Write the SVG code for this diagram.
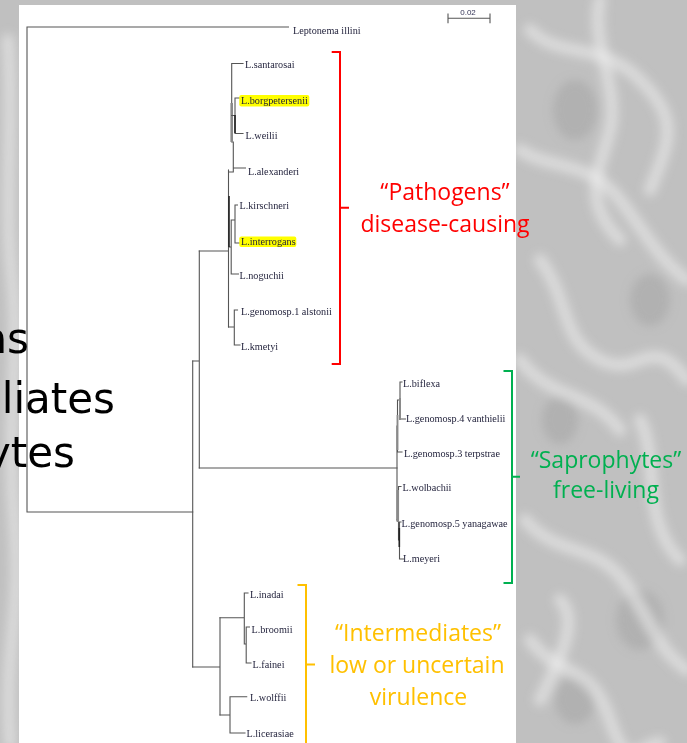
<svg xmlns="http://www.w3.org/2000/svg" width="687" height="743" viewBox="0 0 687 743">
<defs>
<style>
.bg{fill:#c0c0c0}
.panel{fill:#ffffff}
.tree{fill:none;stroke:#555;stroke-width:1.1;stroke-linecap:square}
.dark{fill:none;stroke:#222;stroke-width:1.6}
.blk{fill:#8a8a8a}
.leaf{font-family:"Liberation Serif","Times New Roman",serif;font-size:10.2px;fill:#1e1e38}
.hl{fill:#ffff00}
.big{font-family:"DejaVu Sans",sans-serif;font-size:42px;fill:#000}
.grp{font-family:"Open Sans","Liberation Sans",sans-serif;font-size:23px;text-anchor:middle}
.red{fill:#ff0000}
.grn{fill:#00b050}
.org{fill:#ffc000}
.brR{fill:none;stroke:#ff0000;stroke-width:2}
.brG{fill:none;stroke:#00b050;stroke-width:2}
.brO{fill:none;stroke:#ffc000;stroke-width:2}
.tex{fill:none;stroke:#eeeeee;stroke-width:13;stroke-linecap:round;opacity:0.55}
.dk{fill:#a6a6a6;opacity:0.6}
</style>
<filter id="blur" x="-20%" y="-20%" width="140%" height="140%"><feGaussianBlur stdDeviation="5"/></filter>
</defs>

<!-- background texture -->
<rect class="bg" x="0" y="0" width="687" height="743"/>
<g filter="url(#blur)">
<ellipse class="dk" cx="575" cy="110" rx="22" ry="30"/>
<ellipse class="dk" cx="650" cy="300" rx="20" ry="26"/>
<ellipse class="dk" cx="560" cy="420" rx="18" ry="24"/>
<ellipse class="dk" cx="640" cy="620" rx="24" ry="30"/>
<ellipse class="dk" cx="575" cy="700" rx="20" ry="24"/>
<path class="tex" d="M530,30 C560,60 600,40 640,80 S670,140 650,190"/>
<path class="tex" d="M600,0 C590,40 620,90 610,130 S580,200 620,240"/>
<path class="tex" d="M520,150 C550,170 590,160 620,200 S660,260 687,280"/>
<path class="tex" d="M540,260 C570,300 560,340 600,360 S650,330 687,380"/>
<path class="tex" d="M520,360 C550,400 590,390 620,430"/>
<path class="tex" d="M640,420 C660,460 640,520 680,560"/>
<path class="tex" d="M525,520 C560,560 600,540 630,590 S660,650 687,670"/>
<path class="tex" d="M530,640 C560,680 590,660 610,720 S640,743 660,743"/>
<path class="tex" d="M560,600 C580,620 560,660 540,700"/>
<path class="tex" d="M8,40 C14,120 4,200 12,280 S6,420 14,520 S4,640 10,743"/>
</g>
<rect class="panel" x="19" y="5" width="497" height="738"/>

<!-- scale bar -->
<g id="scale">
<path class="tree" d="M448,18.3 H490 M448,14 V22.7 M490,14 V22.7"/>
<text x="468" y="15" font-family="Liberation Sans,Arial,sans-serif" font-size="8" fill="#333355" text-anchor="middle">0.02</text>
</g>

<!-- connectors (tree branches) -->
<g id="connectors">
<path class="tree" d="M288.5,27 H27 V512 H192.7"/>
<path class="tree" d="M192.7,361 V667"/>
<path class="tree" d="M192.7,361 H199.3 M199.3,251 V468"/>
<path class="tree" d="M199.3,251 H228.5 M199.3,468 H397"/>
<!-- pathogens -->
<path class="tree" d="M228.5,170 V327"/>
<path class="tree" d="M243,63.5 H231.7 V142 H233.3 V168 H245.5 M233.3,168 V172 H228.5"/>
<rect class="blk" x="230.4" y="103" width="2.6" height="39"/>
<path class="tree" d="M231.7,115.5 H235 M239.5,98 H235 V133.5 H243"/>
<path class="dark" d="M235,115 V133"/>
<path class="tree" d="M237.5,205 H235 V243 H239.5 M235,220 H231.2 M231.2,220 V274 H238.5 M228.5,247 H231.2"/>
<path class="dark" d="M229,196 V247"/>
<path class="tree" d="M237.5,310 H234.3 V345 H240 M228.5,327 H234.3"/>
<!-- saprophytes -->
<path class="tree" d="M397,426 V520"/>
<path class="tree" d="M402,382 H400 V419 H405.5 M397.5,400 H400 M397.5,400 V452 H402"/>
<rect class="blk" x="399" y="398" width="2" height="22"/>
<rect class="blk" x="396.6" y="415" width="1.8" height="35"/>
<path class="tree" d="M401,486.5 H398.5 V540 M397,520 H398.5 M401,522 H399.5 V559 H403.5 M398.5,540 H399.5"/>
<rect class="blk" x="396.6" y="490" width="2.4" height="32"/>
<path class="dark" d="M399.3,528 V547"/>
<!-- intermediates -->
<path class="tree" d="M192.7,667 H220 M220,617.7 V715"/>
<path class="tree" d="M220,617.7 H244.3 M248,593 H244.3 V644 H246.2 M249.5,627 H246.2 V663 H251"/>
<path class="tree" d="M220,715 H230 M246.7,696.7 H230 V733 H245"/>
</g>

<!-- leaf nodes -->
<g id="n-leptonema"><text class="leaf" x="293" y="33.5">Leptonema illini</text></g>
<g id="n-santarosai"><text class="leaf" x="245" y="67.5">L.santarosai</text></g>
<g id="n-borgpetersenii"><rect class="hl" x="239.3" y="95" width="70" height="11.5" rx="2"/><text class="leaf" x="241" y="103.5">L.borgpetersenii</text></g>
<g id="n-weilii"><text class="leaf" x="245.5" y="139">L.weilii</text></g>
<g id="n-alexanderi"><text class="leaf" x="248" y="174.5">L.alexanderi</text></g>
<g id="n-kirschneri"><text class="leaf" x="239.5" y="209">L.kirschneri</text></g>
<g id="n-interrogans"><rect class="hl" x="239.3" y="236.5" width="57" height="10.5" rx="2"/><text class="leaf" x="241" y="244.5">L.interrogans</text></g>
<g id="n-noguchii"><text class="leaf" x="239.5" y="279">L.noguchii</text></g>
<g id="n-alstonii"><text class="leaf" x="241" y="314.5">L.genomosp.1 alstonii</text></g>
<g id="n-kmetyi"><text class="leaf" x="241" y="349.5">L.kmetyi</text></g>
<g id="n-biflexa"><text class="leaf" x="403" y="387">L.biflexa</text></g>
<g id="n-vanthielii"><text class="leaf" x="406" y="422">L.genomosp.4 vanthielii</text></g>
<g id="n-terpstrae"><text class="leaf" x="404" y="457">L.genomosp.3 terpstrae</text></g>
<g id="n-wolbachii"><text class="leaf" x="402.5" y="491">L.wolbachii</text></g>
<g id="n-yanagawae"><text class="leaf" x="401.5" y="527">L.genomosp.5 yanagawae</text></g>
<g id="n-meyeri"><text class="leaf" x="403" y="562">L.meyeri</text></g>
<g id="n-inadai"><text class="leaf" x="250" y="598">L.inadai</text></g>
<g id="n-broomii"><text class="leaf" x="251.5" y="633">L.broomii</text></g>
<g id="n-fainei"><text class="leaf" x="252.5" y="668">L.fainei</text></g>
<g id="n-wolffii"><text class="leaf" x="250" y="701">L.wolffii</text></g>
<g id="n-licerasiae"><text class="leaf" x="246.5" y="737">L.licerasiae</text></g>

<!-- group brackets and labels -->
<g id="pathogens">
<path class="brR" d="M331.7,52 H340 V364 H331.7 M340,207.7 H349"/>
<text class="grp red" x="445" y="200">“Pathogens”</text>
<text class="grp red" x="445" y="231.5">disease-causing</text>
</g>
<g id="saprophytes">
<path class="brG" d="M503.5,371 H512 V583 H503.5 M512,476.7 H520"/>
<text class="grp grn" x="606" y="468">“Saprophytes”</text>
<text class="grp grn" x="606" y="498">free-living</text>
</g>
<g id="intermediates">
<path class="brO" d="M297.5,585 H306 V743 M306,664.5 H315"/>
<text class="grp org" x="418" y="641">“Intermediates”</text>
<text class="grp org" x="417" y="673">low or uncertain</text>
<text class="grp org" x="418.5" y="705">virulence</text>
</g>

<!-- cut-off title text on the left (cut at the picture edge, as in the reference) -->
<g id="left-text">
<text class="big" x="29" y="352.5" text-anchor="end">ns</text>
<text class="big" x="115" y="413" text-anchor="end">liates</text>
<text class="big" x="75" y="467" text-anchor="end">ytes</text>
</g>
</svg>
